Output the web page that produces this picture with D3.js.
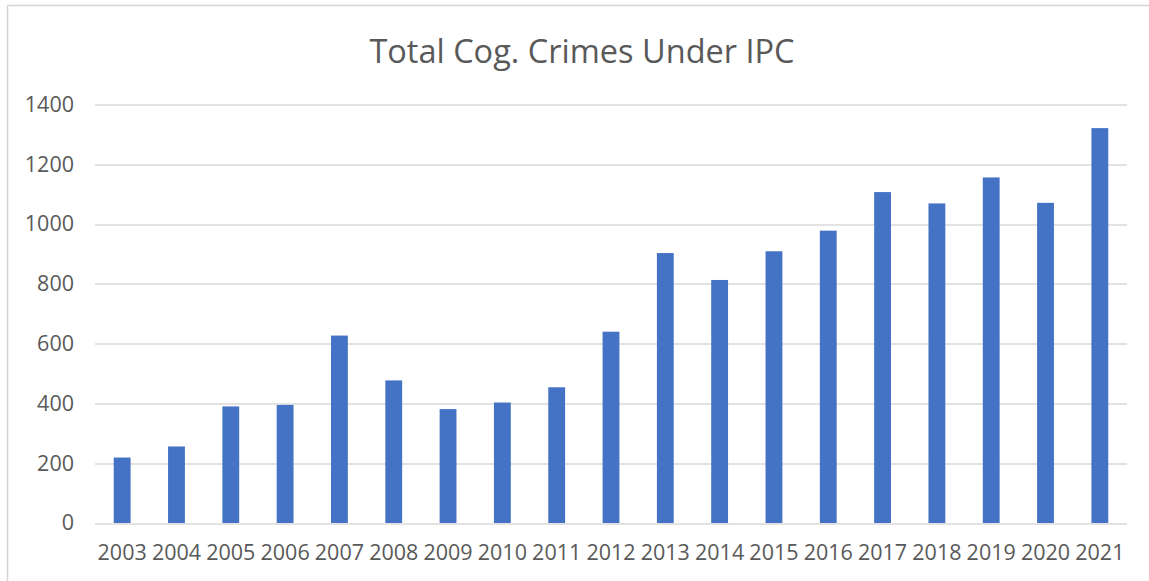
<!DOCTYPE html>
<html lang="en">
<head>
    <meta charset="UTF-8">
    <title>Total Cog. Crimes Under IPC</title>
    <script src="https://d3js.org/d3.v7.min.js"></script>
    <style>
        body { margin: 0; background: #fff; }
        svg { display: block; font-family: "Open Sans", sans-serif; }
        .axis text { fill: #595959; font-size: 21.5px; font-family: "Open Sans", sans-serif; }
        .grid line { stroke: #d9d9d9; stroke-width: 1.3; }
    </style>
</head>
<body>
    <svg width="1149" height="581"></svg>

    <script>
        // Data
        var years = ["2003", "2004", "2005", "2006", "2007", "2008", "2009", "2010", "2011", "2012",
                     "2013", "2014", "2015", "2016", "2017", "2018", "2019", "2020", "2021"];
        var crimes = [219, 256, 390, 395, 627, 477, 381, 403, 454, 640,
                      903, 813, 909, 978, 1107, 1069, 1156, 1071, 1321];
        var yTicks = [0, 200, 400, 600, 800, 1000, 1200, 1400];

        var svg = d3.select("svg"),
            margin = {top: 104.5, right: 22, bottom: 58, left: 95},
            width = 1149 - margin.left - margin.right,
            height = 581 - margin.top - margin.bottom;

        // Chart frame
        svg.append("rect")
            .attr("x", 7.5).attr("y", 5.5)
            .attr("width", 1160).attr("height", 600)
            .attr("fill", "none")
            .attr("stroke", "#d4d4d4")
            .attr("stroke-width", 1.5);

        var g = svg.append("g").attr("transform", "translate(" + margin.left + "," + margin.top + ")");

        var x = d3.scaleBand().domain(years).range([0, width]).paddingInner(0.69).paddingOuter(0.345);
        var y = d3.scaleLinear().domain([0, 1400]).range([height, 0]);

        // Gridlines
        g.append("g")
            .attr("class", "grid")
            .selectAll("line")
            .data(yTicks)
            .enter().append("line")
            .attr("x1", 0).attr("x2", width)
            .attr("y1", function(d) { return Math.round(y(d)) + 0.5; })
            .attr("y2", function(d) { return Math.round(y(d)) + 0.5; });

        // Bars
        g.selectAll(".bar")
            .data(crimes)
            .enter().append("rect")
            .attr("class", "bar")
            .attr("x", function(d, i) { return x(years[i]); })
            .attr("width", x.bandwidth())
            .attr("y", function(d) { return y(d); })
            .attr("height", function(d) { return height - y(d); })
            .attr("fill", "#4472c4");

        // Y axis (labels only)
        var yAxis = g.append("g")
            .attr("class", "axis")
            .call(d3.axisLeft(y).tickValues(yTicks).tickSize(0).tickPadding(21).tickFormat(d3.format("d")));
        yAxis.select(".domain").remove();

        // X axis (labels only)
        var xAxis = g.append("g")
            .attr("class", "axis")
            .attr("transform", "translate(0," + height + ")")
            .call(d3.axisBottom(x).tickSize(0).tickPadding(22));
        xAxis.select(".domain").remove();

        // Title
        svg.append("text")
            .attr("x", 582)
            .attr("y", 63)
            .attr("text-anchor", "middle")
            .attr("fill", "#595959")
            .style("font-size", "32.5px")
            .text("Total Cog. Crimes Under IPC");
    </script>
</body>
</html>
